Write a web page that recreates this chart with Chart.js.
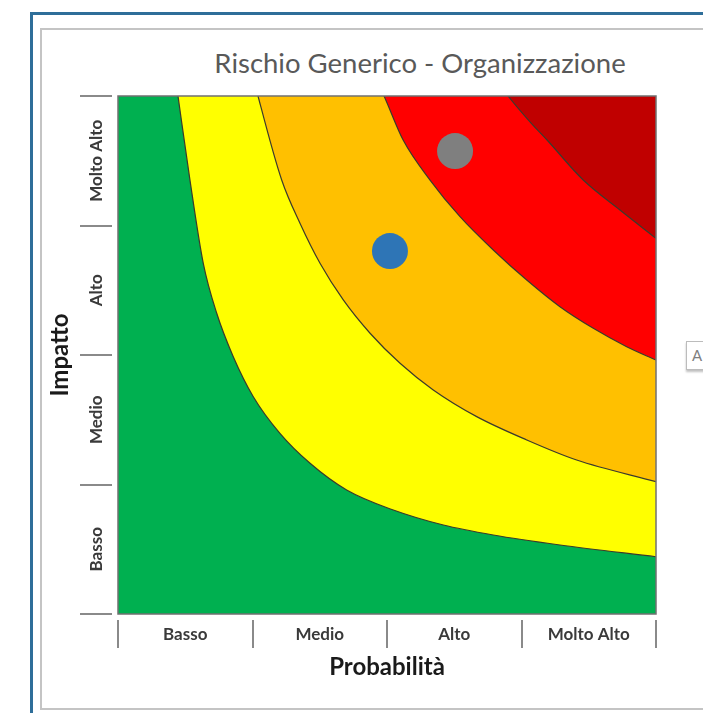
<!DOCTYPE html>
<html>
<head>
<meta charset="utf-8">
<script src="https://cdn.jsdelivr.net/npm/chart.js@4.4.1/dist/chart.umd.min.js"></script>
<style>
html,body{margin:0;padding:0;background:#fff;width:703px;height:713px;overflow:hidden;}
#wrap{position:relative;width:703px;height:713px;overflow:hidden;}
#blue{position:absolute;left:30px;top:12px;width:900px;height:900px;border:3px solid #2E6E99;box-sizing:border-box;}
#gray{position:absolute;left:40px;top:28px;width:900px;height:682px;border:2px solid #c4c4c4;box-sizing:border-box;}
#title{position:absolute;left:0;top:47px;width:840px;text-align:center;font-family:Lato;font-size:27.5px;color:#595959;line-height:32px;white-space:nowrap;}
#stub{position:absolute;left:686px;top:341px;width:60px;height:29px;border:1px solid #bcbcbc;box-shadow:0 2px 2px rgba(0,0,0,0.25);background:#fff;box-sizing:border-box;font-family:Lato;font-size:15px;color:#7f7f7f;line-height:27px;padding-left:5px;}
canvas{position:absolute;left:0;top:0;}
</style>
</head>
<body>
<div id="wrap">
  <div id="blue"></div>
  <div id="gray"></div>
  <div id="title">Rischio Generico - Organizzazione</div>
  <div id="stub">A</div>
  <canvas id="c" width="703" height="713" style="width:703px;height:713px"></canvas>
</div>
<script>
// ---- data ----
const probLabels = ['Basso', 'Medio', 'Alto', 'Molto Alto'];
const impLabels  = ['Basso', 'Medio', 'Alto', 'Molto Alto'];
const tickValues = [0, 0.5, 1, 1.5, 2, 2.5, 3, 3.5, 4];

// boundary green / yellow
const b1X = [0, 0.31, 0.446, 0.535, 0.634, 0.734, 0.857, 1.006, 1.204, 1.428, 1.700, 2.047, 2.419, 2.790, 3.286, 4.0];
const b1Y = [5, 5.0, 4.0, 3.351, 2.708, 2.322, 1.987, 1.678, 1.395, 1.164, 0.958, 0.803, 0.687, 0.610, 0.533, 0.442];
// boundary yellow / orange
const b2X = [0, 0.80, 1.041, 1.217, 1.353, 1.502, 1.675, 1.874, 2.097, 2.344, 2.667, 3.039, 3.410, 4.0];
const b2Y = [5, 5.0, 4.0, 3.351, 3.017, 2.708, 2.425, 2.168, 1.936, 1.730, 1.524, 1.344, 1.189, 1.022];
// boundary orange / red
const b3X = [0, 1.75, 1.978, 2.120, 2.320, 2.543, 2.790, 3.039, 3.286, 3.534, 3.782, 4.0];
const b3Y = [4.5, 4.5, 4.0, 3.660, 3.351, 3.068, 2.811, 2.579, 2.373, 2.206, 2.064, 1.961];
// boundary red / dark red
const b4X = [0, 2.55, 2.900, 3.063, 3.190, 3.459, 3.732, 4.0];
const b4Y = [4.5, 4.5, 4.0, 3.800, 3.660, 3.351, 3.120, 2.901];
// top band (dark red)
const topX = [0, 4];
const topY = [4, 4];

// risk points
const riskX = [2.022, 2.506];
const riskY = [2.803, 3.575];
const riskColors = ['#2E75B6', '#7F7F7F'];

// ---- helpers ----
function pts(xs, ys) { return xs.map((x, i) => ({x: x, y: ys[i]})); }
function isInt(v) { return Math.abs(v - Math.round(v)) < 1e-6; }
function labelFor(v, labels) { return isInt(v) ? '' : labels[Math.floor(v)]; }

const tickFont = {family: 'Lato', size: 17, weight: 'bold'};
const titleFont = {family: 'Lato', size: 24, weight: 'bold'};
const mctx = document.createElement('canvas').getContext('2d');
mctx.font = 'bold 17px Lato';
const widest = Math.max.apply(null, impLabels.map(t => mctx.measureText(t).width));

const lineCol = '#3b3a2c';
function band(label, xs, ys, color, order, bw) {
  return {
    label: label, data: pts(xs, ys), borderColor: lineCol, borderWidth: bw,
    backgroundColor: color, fill: 'start', pointRadius: 0, order: order,
    cubicInterpolationMode: 'monotone'
  };
}

const frame = {
  id: 'frame',
  afterDatasetsDraw(chart) {
    const {ctx, chartArea: a} = chart;
    ctx.save();
    ctx.strokeStyle = '#707070';
    ctx.lineWidth = 1.5;
    ctx.strokeRect(a.left, a.top, a.right - a.left, a.bottom - a.top);
    ctx.restore();
  }
};

new Chart(document.getElementById('c'), {
  type: 'line',
  data: {
    datasets: [
      {label: 'Rischi', data: pts(riskX, riskY), showLine: false, pointRadius: 18,
       pointBackgroundColor: riskColors, pointBorderWidth: 0, order: 0},
      band('Basso', b1X, b1Y, '#00B050', 1, 1.2),
      band('Medio', b2X, b2Y, '#FFFF00', 2, 1.2),
      band('Alto', b3X, b3Y, '#FFC000', 3, 1.2),
      band('Molto Alto', b4X, b4Y, '#FF0000', 4, 1.2),
      band('Critico', topX, topY, '#C00000', 5, 0)
    ]
  },
  options: {
    responsive: false,
    animation: false,
    layout: {padding: {left: 46, right: 47, top: 96, bottom: 31}, autoPadding: false},
    plugins: {legend: {display: false}, tooltip: {enabled: false}, title: {display: false}},
    scales: {
      x: {type: 'linear', axis: 'x', min: 0, max: 4, position: 'bottom', weight: 0,
          ticks: {display: false}, grid: {display: false}, border: {display: false},
          afterFit(s) { s.height = 6; }},
      y: {type: 'linear', axis: 'y', min: 0, max: 4, position: 'left', weight: 0,
          ticks: {display: false}, grid: {display: false}, border: {display: false},
          afterFit(s) { s.width = 6; }},
      xTicks: {type: 'linear', axis: 'x', min: 0, max: 4, position: 'bottom', weight: 1,
          afterBuildTicks(s) { s.ticks = tickValues.map(v => ({value: v})); },
          ticks: {autoSkip: false, maxRotation: 0, minRotation: 0, padding: -24,
                  font: tickFont, color: '#3a3a3a',
                  callback: (v) => labelFor(v, probLabels)},
          grid: {display: true, drawOnChartArea: false, drawTicks: true, tickLength: 28,
                 tickWidth: 2, lineWidth: 2,
                 tickColor: (c) => (c.tick && isInt(c.tick.value)) ? '#8a8a8a' : 'rgba(0,0,0,0)'},
          border: {display: false},
          title: {display: true, text: 'Probabilità', font: titleFont, color: '#1a1a1a', padding: 0},
          afterFit(s) { s.height = 62; }},
      yTicks: {type: 'linear', axis: 'y', min: 0, max: 4, position: 'left', weight: 1,
          afterBuildTicks(s) { s.ticks = tickValues.map(v => ({value: v})); },
          ticks: {autoSkip: false, minRotation: 90, maxRotation: 90, crossAlign: 'center',
                  padding: -17 - widest / 2, font: tickFont, color: '#3a3a3a',
                  callback: (v) => labelFor(v, impLabels)},
          grid: {display: true, drawOnChartArea: false, drawTicks: true, tickLength: 32,
                 tickWidth: 2, lineWidth: 2,
                 tickColor: (c) => (c.tick && isInt(c.tick.value)) ? '#8a8a8a' : 'rgba(0,0,0,0)'},
          border: {display: false},
          title: {display: true, text: 'Impatto', font: titleFont, color: '#1a1a1a', padding: 0},
          afterFit(s) { s.width = 66; }}
    }
  },
  plugins: [frame]
});
</script>
</body>
</html>
